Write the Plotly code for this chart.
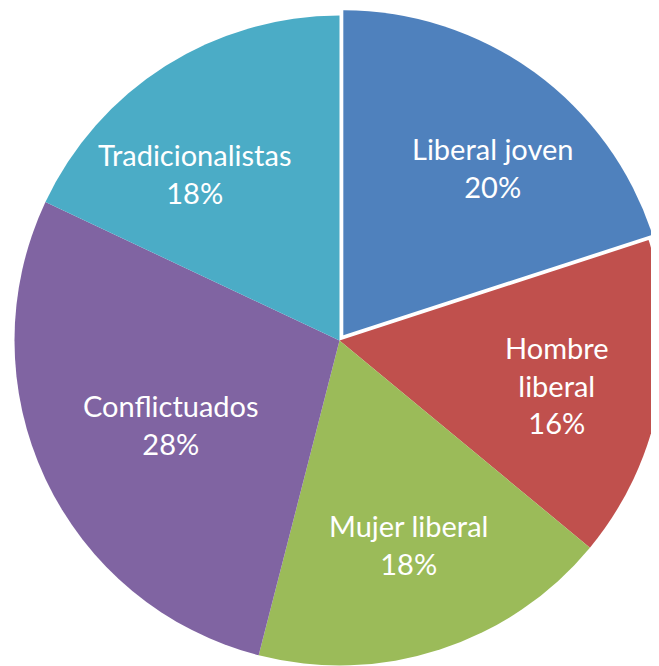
import math
import plotly.graph_objects as go

labels = ["Liberal joven", "Hombre liberal", "Mujer liberal", "Conflictuados", "Tradicionalistas"]
text_labels = ["Liberal joven", "Hombre<br>liberal", "Mujer liberal", "Conflictuados", "Tradicionalistas"]
values = [20, 16, 18, 28, 18]
colors = ["#4F81BD", "#C0504D", "#9BBB59", "#8064A2", "#4BACC6"]
pulls = [0.02, 0, 0, 0, 0]

# label placement style (radius fraction and angular nudge from mid-angle, degrees)
label_radius = [0.71, 0.69, 0.67, 0.576, 0.672]
label_nudge = [6.2, 1.2, -0.9, -2.3, -8.5]

W, H = 663, 665

fig = go.Figure(go.Pie(
    labels=labels,
    values=values,
    textinfo="none",
    marker=dict(colors=colors, line=dict(width=0)),
    pull=pulls,
    sort=False,
    direction="clockwise",
    rotation=0,
    hoverinfo="label+percent",
))

# pie geometry as plotly lays it out (full domain, no margins)
r = min(W, H) / 2 / (1 + max(pulls))
total = sum(values)
cum = 0
annotations = []
for lab, v, f, nd in zip(text_labels, values, label_radius, label_nudge):
    mid = (cum + v / 2) / total * 360
    cum += v
    th = math.radians(mid + nd)
    x = 0.5 + f * r * math.sin(th) / W
    y = 0.5 + f * r * math.cos(th) / H
    annotations.append(dict(
        x=x, y=y, xref="paper", yref="paper",
        text=f"{lab}<br>{round(v / total * 100)}%",
        showarrow=False, xanchor="center", yanchor="middle",
        xshift=-2, yshift=2,
        font=dict(family="Lato", size=29, color="white"),
    ))

fig.update_layout(
    width=W, height=H,
    margin=dict(l=0, r=0, t=0, b=0),
    showlegend=False,
    paper_bgcolor="white",
    plot_bgcolor="white",
    annotations=annotations,
)
fig.write_html("out.html")
